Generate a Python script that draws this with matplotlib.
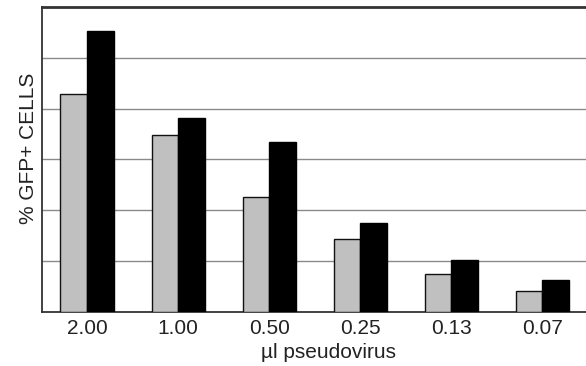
import matplotlib
matplotlib.use("Agg")
import matplotlib.pyplot as plt
import numpy as np

plt.rcParams['font.family'] = ['Liberation Sans', 'DejaVu Sans']

categories = ["2.00", "1.00", "0.50", "0.25", "0.13", "0.07"]
series_grey = [4.28, 3.48, 2.27, 1.44, 0.74, 0.41]
series_black = [5.52, 3.81, 3.34, 1.75, 1.02, 0.62]

W, H = 586, 366
fig = plt.figure(figsize=(W / 100, H / 100), dpi=100)
ax = fig.add_axes([41.5 / W, 1 - 312 / H, 546.4 / W, 305 / H])

x = np.arange(len(categories))
bw = 0.292
ax.bar(x - bw / 2, series_grey, width=bw, color="#c0c0c0", edgecolor="#111111", linewidth=1.0, zorder=3)
ax.bar(x + bw / 2, series_black, width=bw, color="#000000", edgecolor="#000000", linewidth=1.0, zorder=3)

ax.set_xlim(-0.5, 5.5)
ax.set_ylim(0, 6)
ax.set_yticks([1, 2, 3, 4, 5])
ax.set_yticklabels([])
ax.tick_params(axis='y', length=0)
ax.yaxis.grid(True, color="#8a8a8a", linewidth=1.0, zorder=0)
ax.set_axisbelow(True)

ax.set_xticks(x)
ax.set_xticklabels(categories, fontsize=15, color="#222222")
ax.tick_params(axis='x', length=0, pad=5)

for s in ['left', 'bottom']:
    ax.spines[s].set_color("#333333")
    ax.spines[s].set_linewidth(1.3)
ax.spines['top'].set_color("#333333")
ax.spines['top'].set_linewidth(2.0)
ax.spines['right'].set_visible(False)

fig.text(28.5 / W, 1 - 148.5 / H, "% GFP+ CELLS", rotation=90, ha='center', va='center',
         fontsize=15, color="#222222")
fig.text(328.8 / W, 1 - 358.5 / H, "µl pseudovirus", ha='center', va='baseline',
         fontsize=15, color="#222222")

fig.savefig("out.png", dpi=100)
